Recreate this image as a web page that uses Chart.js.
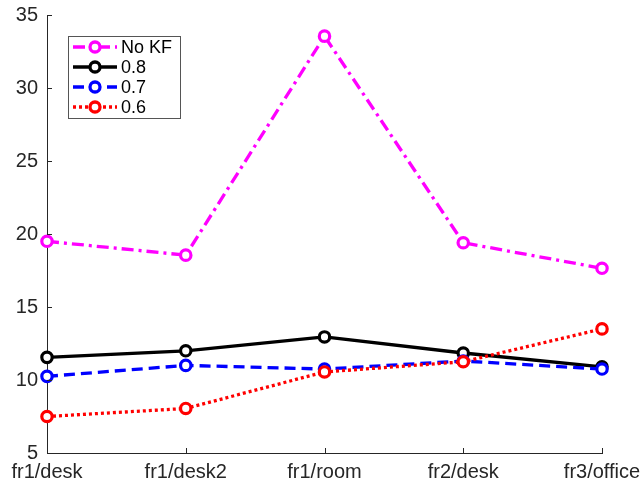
<!DOCTYPE html>
<html>
<head>
<meta charset="utf-8">
<script src="https://cdn.jsdelivr.net/npm/chart.js@4"></script>
<style>
  html, body { margin: 0; padding: 0; background: #fff; }
  #wrap { width: 641px; height: 484px; }
</style>
</head>
<body>
<div id="wrap"><canvas id="c" width="641" height="484"></canvas></div>
<script>
// ── Dados ─────────────────────────────────────────────
const categorias = ["fr1/desk", "fr1/desk2", "fr1/room", "fr2/desk", "fr3/office"];
const semKF = [19.5, 18.55, 33.55, 19.4, 17.65];
const kf08  = [11.55, 12.0, 12.95, 11.85, 10.9];
const kf07  = [10.25, 11.0, 10.75, 11.3, 10.75];
const kf06  = [7.5, 8.05, 10.55, 11.25, 13.5];
const yTicks = [5, 10, 15, 20, 25, 30, 35];

const FONTE = "'Liberation Sans', Arial, sans-serif";
const CINZA = "#262626";

const series = [
  { label: "No KF", data: semKF, color: "#ff00ff", dash: [12, 5, 3, 5], order: 4 },
  { label: "0.8",   data: kf08,  color: "#000000", dash: [],             order: 3 },
  { label: "0.7",   data: kf07,  color: "#0000ff", dash: [11, 6],        order: 2 },
  { label: "0.6",   data: kf06,  color: "#ff0000", dash: [3, 3],         order: 1 }
];

// ── Ticks para dentro + legenda com linha e marcador ──
const extras = {
  id: "extras",
  afterDraw(chart) {
    const ctx = chart.ctx;
    const x = chart.scales.x, y = chart.scales.y;
    const area = chart.chartArea;
    ctx.save();
    ctx.strokeStyle = CINZA;
    ctx.lineWidth = 1;
    ctx.beginPath();
    x.ticks.forEach((t, i) => {
      const px = Math.round(x.getPixelForTick(i)) + 0.5;
      ctx.moveTo(px, area.bottom);
      ctx.lineTo(px, area.bottom - 5);
    });
    yTicks.forEach(v => {
      const py = Math.round(y.getPixelForValue(v)) + 0.5;
      ctx.moveTo(area.left, py);
      ctx.lineTo(area.left + 5, py);
    });
    ctx.stroke();

    // legenda
    const bx = 68.5, by = 36.5, bw = 112, bh = 82;
    ctx.fillStyle = "#fff";
    ctx.fillRect(bx, by, bw, bh);
    ctx.strokeStyle = "#555";
    ctx.lineWidth = 1;
    ctx.strokeRect(bx, by, bw, bh);
    series.forEach((s, i) => {
      const ly = 47 + i * 20;
      ctx.strokeStyle = s.color;
      ctx.lineWidth = 3.3;
      ctx.setLineDash(s.dash);
      ctx.beginPath();
      ctx.moveTo(73, ly);
      ctx.lineTo(117, ly);
      ctx.stroke();
      ctx.setLineDash([]);
      ctx.beginPath();
      ctx.arc(95, ly, 5, 0, Math.PI * 2);
      ctx.fillStyle = "#fff";
      ctx.fill();
      ctx.stroke();
      ctx.fillStyle = "#000";
      ctx.font = "18px " + FONTE;
      ctx.textBaseline = "middle";
      ctx.textAlign = "left";
      ctx.fillText(s.label, 121, ly + 1);
    });
    ctx.restore();
  }
};

new Chart(document.getElementById("c"), {
  type: "line",
  data: {
    labels: categorias,
    datasets: series.map(s => ({
      label: s.label,
      data: s.data,
      order: s.order,
      borderColor: s.color,
      borderWidth: 3.3,
      borderDash: s.dash,
      borderCapStyle: "butt",
      tension: 0,
      fill: false,
      pointRadius: 5.2,
      pointBorderWidth: 3.2,
      pointBorderColor: s.color,
      pointBackgroundColor: "#fff",
      pointStyle: "circle"
    }))
  },
  options: {
    responsive: false,
    animation: false,
    devicePixelRatio: 1,
    layout: { padding: { top: 15, right: 39, left: 0, bottom: 0 } },
    plugins: { legend: { display: false }, tooltip: { enabled: false } },
    scales: {
      x: {
        type: "category",
        offset: false,
        grid: { display: false, drawTicks: false },
        border: { display: true, color: CINZA, width: 1 },
        ticks: {
          color: CINZA, padding: 7, maxRotation: 0, autoSkip: false,
          font: { family: FONTE, size: 20 }
        },
        afterFit(s) {
          s.height = 31;
          s.paddingLeft = 0; s.paddingRight = 0;
        }
      },
      y: {
        min: 5, max: 35,
        grid: { display: false, drawTicks: false },
        border: { display: true, color: CINZA, width: 1 },
        afterBuildTicks(s) { s.ticks = yTicks.map(v => ({ value: v })); },
        ticks: {
          color: CINZA, padding: 9,
          font: { family: FONTE, size: 20 }
        },
        afterFit(s) {
          s.width = 47;
          s.paddingTop = 0; s.paddingBottom = 0;
        }
      }
    }
  },
  plugins: [extras]
});
</script>
</body>
</html>
